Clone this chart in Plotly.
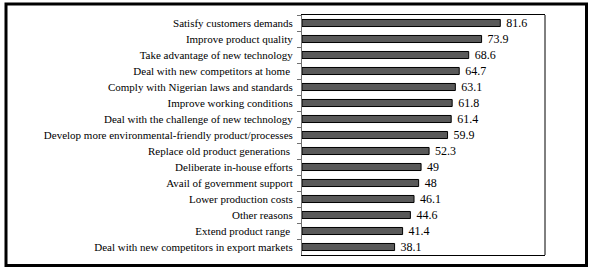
import plotly.graph_objects as go

categories = [
    "Satisfy customers demands",
    "Improve product quality",
    "Take advantage of new technology",
    "Deal with new competitors at home\u00a0",
    "Comply with Nigerian laws and standards",
    "Improve working conditions",
    "Deal with the challenge of new technology",
    "Develop more environmental-friendly product/processes",
    "Replace old product generations\u00a0",
    "Deliberate in-house efforts",
    "Avail of government support",
    "Lower production costs",
    "Other reasons",
    "Extend product range\u00a0",
    "Deal with new competitors in export markets",
]
values = [81.6, 73.9, 68.6, 64.7, 63.1, 61.8, 61.4, 59.9, 52.3, 49, 48, 46.1, 44.6, 41.4, 38.1]

W, H = 590, 269
L, R, T, B = 302, 545, 15, 255

fig = go.Figure(go.Bar(
    x=values, y=categories, orientation="h",
    marker=dict(color="#595959", line=dict(color="black", width=1)),
    text=[f"\u00a0{v:g}" for v in values],
    textposition="outside",
    constraintext="none",
    textfont=dict(family="Liberation Serif", size=12, color="black"),
    cliponaxis=False,
    hoverinfo="skip",
))

def px_to_paper_x(px):
    return (px - L) / (R - L)

def px_to_paper_y(py):
    return (B - py) / (B - T)

fig.update_layout(
    width=W, height=H,
    margin=dict(l=L, r=W - R, t=T, b=H - B, pad=0),
    paper_bgcolor="white", plot_bgcolor="white",
    bargap=0.56,
    showlegend=False,
    font=dict(family="Liberation Serif", size=11, color="black"),
    xaxis=dict(range=[0, 100], showgrid=False, zeroline=False, showticklabels=False,
               ticks="", showline=True, linecolor="black", linewidth=1, mirror=True),
    yaxis=dict(autorange="reversed", showgrid=False, ticks="outside", ticklen=4,
               tickcolor="#707070", tickwidth=1, tickson="boundaries", showline=True,
               linecolor="#707070", linewidth=1, mirror=False,
               ticklabelstandoff=6, automargin=False,
               tickfont=dict(family="Liberation Serif", size=11, color="black")),
    shapes=[
        dict(type="rect", xref="paper", yref="paper",
             x0=px_to_paper_x(6), x1=px_to_paper_x(586.5),
             y0=px_to_paper_y(265.5), y1=px_to_paper_y(4),
             line=dict(color="black", width=3), fillcolor="rgba(0,0,0,0)", layer="above"),
        dict(type="line", xref="paper", yref="paper",
             x0=1, x1=1, y0=0, y1=1, line=dict(color="black", width=1)),
    ],
)

fig.write_html("out.html", config={"displayModeBar": False, "staticPlot": True})
with open("out.html", "r", encoding="utf-8") as f:
    html = f.read()
html = html.replace("<head>", "<head><style>html,body{margin:0;padding:0;overflow:hidden}</style>", 1)
with open("out.html", "w", encoding="utf-8") as f:
    f.write(html)
